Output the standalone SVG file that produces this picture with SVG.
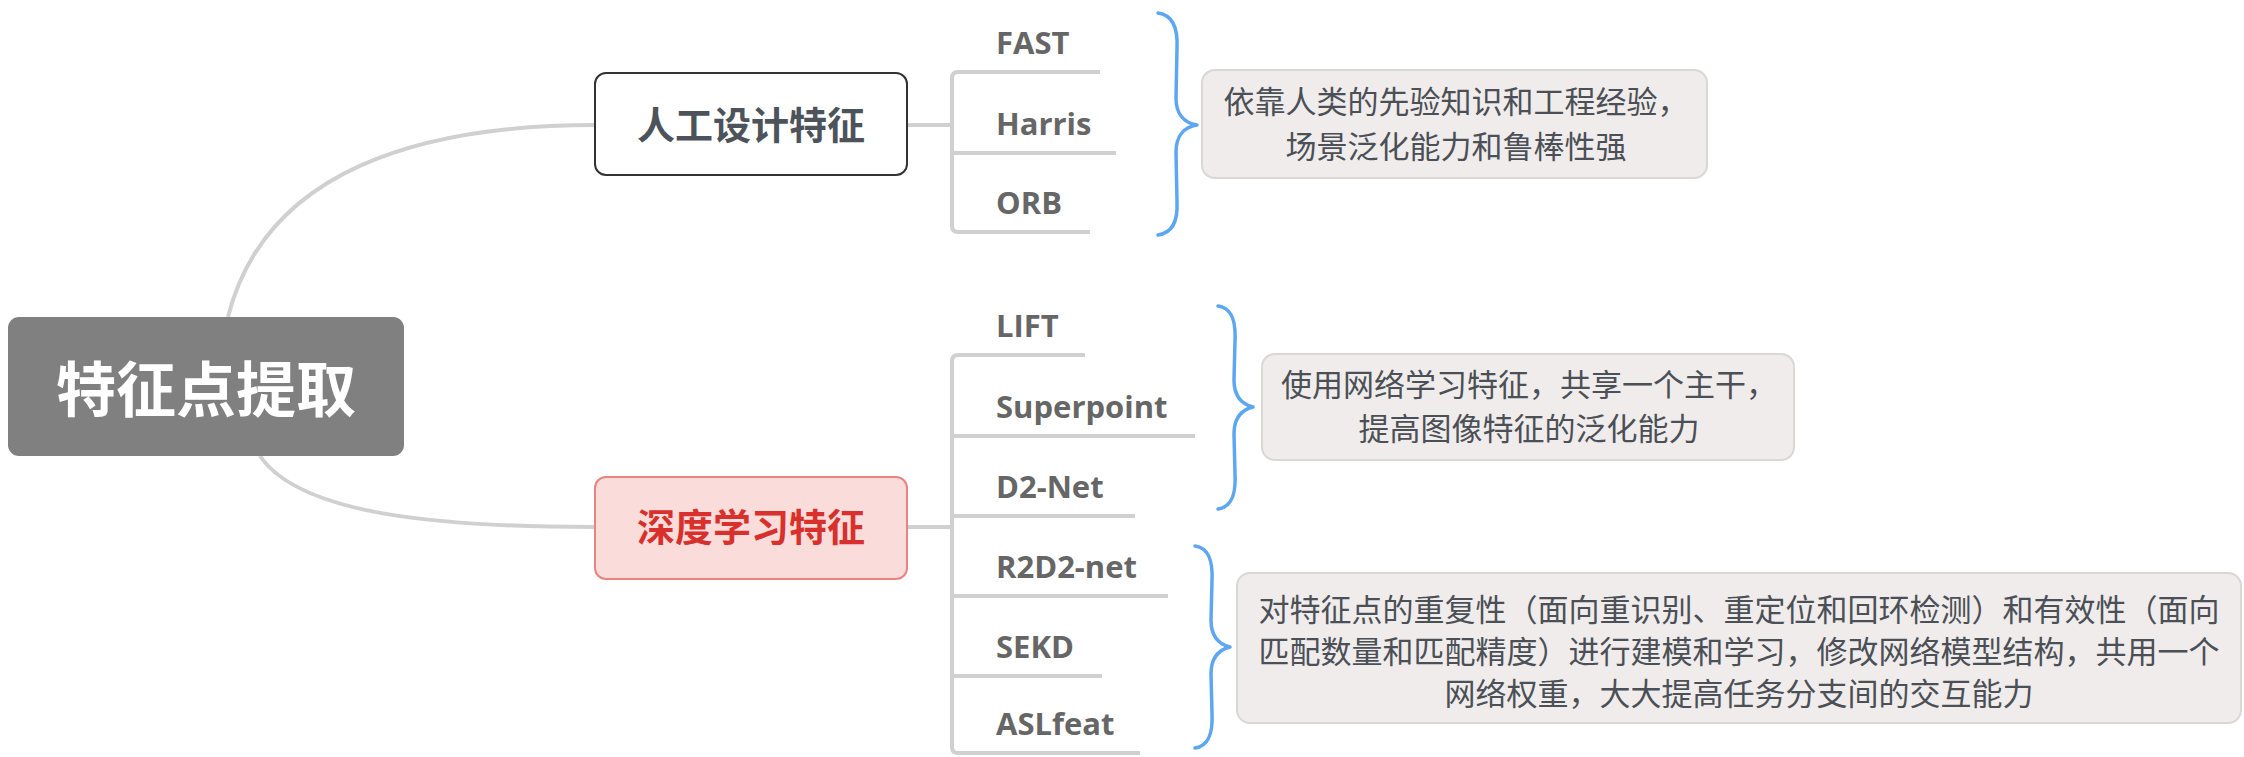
<svg xmlns="http://www.w3.org/2000/svg" width="2244" height="757" viewBox="0 0 2244 757">
<style>
.conn{fill:none;stroke:#d0d0d0;stroke-width:4;stroke-linecap:butt;stroke-linejoin:round}
.brace{fill:none;stroke:#5ca6f2;stroke-width:3.5;stroke-linecap:round;stroke-linejoin:round}
.lbl{font-family:"Open Sans","Liberation Sans",sans-serif;font-weight:700;font-size:31px;fill:#666666}
.note rect{fill:#efeceb;stroke:#dad7d4;stroke-width:2}
.note text{font-family:"Noto Sans CJK SC","Noto Sans",sans-serif;font-size:31px;fill:#4b4f56;text-anchor:middle}
.ntxt{font-family:"Noto Sans CJK SC","Noto Sans",sans-serif;font-weight:700;text-anchor:middle}
</style>
<rect width="2244" height="757" fill="#ffffff"/>
<g id="connectors">
  <path class="conn" d="M228,317 C265,170 420,125 595,125"/>
  <path class="conn" d="M260,456 C300,515 440,527 595,527"/>
  <path class="conn" d="M907,125 H952"/>
  <path class="conn" d="M1100,72 H958 Q952,72 952,78 V226 Q952,232 958,232 H1090"/>
  <path class="conn" d="M952,153 H1116"/>
  <path class="conn" d="M907,527 H952"/>
  <path class="conn" d="M1085,355 H958 Q952,355 952,361 V747 Q952,753 958,753 H1140"/>
  <path class="conn" d="M952,436 H1195"/>
  <path class="conn" d="M952,516 H1135"/>
  <path class="conn" d="M952,596 H1168"/>
  <path class="conn" d="M952,676 H1102"/>
</g>
<g id="root">
  <rect x="8" y="317" width="396" height="139" rx="11" fill="#808080"/>
  <text class="ntxt" x="206" y="412" font-size="60" fill="#ffffff">特征点提取</text>
</g>
<g id="node-manual">
  <rect x="595" y="73" width="312" height="102" rx="11" fill="#ffffff" stroke="#333333" stroke-width="2"/>
  <text class="ntxt" x="751" y="139" font-size="38" fill="#4d535b">人工设计特征</text>
</g>
<g id="node-deep">
  <rect x="595" y="477" width="312" height="102" rx="11" fill="#fadcdb" stroke="#e88383" stroke-width="2"/>
  <text class="ntxt" x="751" y="541" font-size="38" fill="#d8302c">深度学习特征</text>
</g>
<g id="leaf-fast"><text class="lbl" x="996" y="54">FAST</text></g>
<g id="leaf-harris"><text class="lbl" x="996" y="135">Harris</text></g>
<g id="leaf-orb"><text class="lbl" x="996" y="214">ORB</text></g>
<g id="leaf-lift"><text class="lbl" x="996" y="337">LIFT</text></g>
<g id="leaf-superpoint"><text class="lbl" x="996" y="418">Superpoint</text></g>
<g id="leaf-d2net"><text class="lbl" x="996" y="498">D2-Net</text></g>
<g id="leaf-r2d2"><text class="lbl" x="996" y="578">R2D2-net</text></g>
<g id="leaf-sekd"><text class="lbl" x="996" y="658">SEKD</text></g>
<g id="leaf-aslfeat"><text class="lbl" x="996" y="735">ASLfeat</text></g>
<g id="brace1"><path class="brace" d="M1158,13 C1172,15 1178,28 1177,48 L1176,98 C1176,114 1184,123 1197,125 C1184,127 1176,136 1176,152 L1177,202 C1178,222 1172,233 1158,235"/></g>
<g id="brace2"><path class="brace" d="M1218,306 C1232,308 1236,321 1235,341 L1234,380 C1234,396 1241,404 1253,407 C1241,410 1234,418 1234,434 L1235,474 C1236,494 1232,507 1218,509"/></g>
<g id="brace3"><path class="brace" d="M1195,546 C1209,548 1213,561 1212,581 L1211,620 C1211,636 1218,644 1230,647 C1218,650 1211,658 1211,674 L1212,713 C1213,733 1209,746 1195,748"/></g>
<g id="note1" class="note">
  <rect x="1202" y="70" width="505" height="108" rx="13"/>
  <text x="1456" y="113">依靠人类的先验知识和工程经验，</text>
  <text x="1456" y="158">场景泛化能力和鲁棒性强</text>
</g>
<g id="note2" class="note">
  <rect x="1262" y="354" width="532" height="106" rx="13"/>
  <text x="1529" y="396">使用网络学习特征，共享一个主干，</text>
  <text x="1529" y="440">提高图像特征的泛化能力</text>
</g>
<g id="note3" class="note">
  <rect x="1237" y="573" width="1004" height="150" rx="13"/>
  <text x="1739" y="621">对特征点的重复性（面向重识别、重定位和回环检测）和有效性（面向</text>
  <text x="1739" y="663">匹配数量和匹配精度）进行建模和学习，修改网络模型结构，共用一个</text>
  <text x="1739" y="705">网络权重，大大提高任务分支间的交互能力</text>
</g>
</svg>
